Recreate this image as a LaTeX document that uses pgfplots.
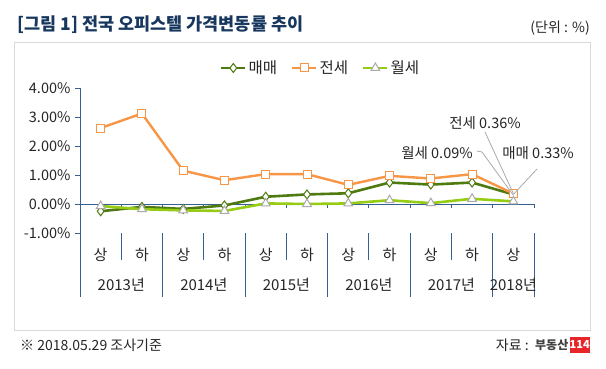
\documentclass[border=0pt]{standalone}
\usepackage{fontspec}
\setmainfont{Noto Sans CJK KR}
\usepackage{pgfplots}
\usepackage{pgfplotstable}
\pgfplotsset{compat=1.18}
\definecolor{maemae}{RGB}{79,122,16}
\definecolor{jeonse}{RGB}{247,150,70}
\definecolor{wolse}{RGB}{150,204,20}
\definecolor{axiscol}{RGB}{54,96,146}
\definecolor{titlecol}{RGB}{23,55,94}
\definecolor{framecol}{RGB}{217,217,217}
\definecolor{leader}{RGB}{170,170,170}
\definecolor{txt}{RGB}{38,38,38}
\definecolor{logored}{RGB}{232,38,42}

\pgfplotstableread{
x maemae jeonse wolse
1  -0.25 2.62 -0.07
2  -0.10 3.12 -0.18
3  -0.17 1.15 -0.22
4  -0.05 0.82 -0.24
5   0.25 1.03  0.02
6   0.33 1.03  0.00
7   0.37 0.66  0.02
8   0.74 0.97  0.13
9   0.67 0.88  0.03
10  0.74 1.03  0.18
11  0.33 0.36  0.09
}\datatable

\begin{document}
\begin{tikzpicture}
\useasboundingbox (0pt,0pt) rectangle (606pt,-369pt);
\fill[white] (0pt,0pt) rectangle (606pt,-369pt);
\node[anchor=west, text=titlecol, font=\fontsize{17.5}{20}\selectfont\bfseries, inner sep=0] at (17pt,-25pt) {[그림 1] 전국 오피스텔 가격변동률 추이};
\node[anchor=east, text=txt, font=\fontsize{14}{17}\selectfont, inner sep=0] at (590pt,-28pt) {(단위 : \%)};
\draw[framecol, line width=1pt] (14pt,-43pt) rectangle (590pt,-330pt);

\begin{axis}[
  at={(80pt,-233pt)}, anchor=south west,
  scale only axis, width=454pt, height=145pt,
  xmin=0.5, xmax=11.5, ymin=-1, ymax=4,
  clip=false,
  axis lines*=left,
  x axis line style={draw=none},
  y axis line style={draw=axiscol, line width=1pt},
  ytick={-1,0,1,2,3,4},
  ytick style={draw=axiscol, line width=1pt},
  tick align=outside,
  major tick length=5pt,
  yticklabel={\pgfmathprintnumber[fixed,fixed zerofill,precision=2]{\tick}\%},
  /pgf/number format/assume math mode=true,
  yticklabel style={font=\fontsize{14.5}{17}\selectfont, text=txt, xshift=-1pt},
  xtick={1,...,11},
  xticklabels={상,하,상,하,상,하,상,하,상,하,상},
  xtick style={draw=none},
  xticklabel style={font=\fontsize{15}{18}\selectfont, text=txt, anchor=center, yshift=-17pt},
  legend columns=3,
  legend style={draw=none, fill=none, font=\fontsize{15.5}{18}\selectfont, text=txt,
    at={(axis description cs:0.53,1.138)}, anchor=center,
    /tikz/every even column/.append style={column sep=12pt}},
  legend image code/.code={\draw[mark repeat=2,mark phase=2] plot coordinates {(0pt,0pt) (12pt,0pt) (24pt,0pt)};},
]
\draw[axiscol, line width=1pt] (axis cs:0.5,0) -- (axis cs:11.5,0);
\pgfplotsinvokeforeach{1.5,2.5,...,11.5}{
  \draw[axiscol, line width=1pt] (axis cs:#1,0) -- ([yshift=-4pt]axis cs:#1,0);
}
\pgfplotsinvokeforeach{1.5,3.5,5.5,7.5,9.5}{
  \draw[axiscol, line width=1pt] (axis cs:#1,-1) -- ([yshift=-27pt]axis cs:#1,-1);
}
\pgfplotsinvokeforeach{0.5,2.5,4.5,6.5,8.5,10.5,11.5}{
  \draw[axiscol, line width=1pt] (axis cs:#1,-1) -- ([yshift=-64pt]axis cs:#1,-1);
}
\node[text=txt, font=\fontsize{15}{18}\selectfont, inner sep=0] at ([yshift=-52pt]axis cs:1.5,-1) {2013년};
\node[text=txt, font=\fontsize{15}{18}\selectfont, inner sep=0] at ([yshift=-52pt]axis cs:3.5,-1) {2014년};
\node[text=txt, font=\fontsize{15}{18}\selectfont, inner sep=0] at ([yshift=-52pt]axis cs:5.5,-1) {2015년};
\node[text=txt, font=\fontsize{15}{18}\selectfont, inner sep=0] at ([yshift=-52pt]axis cs:7.5,-1) {2016년};
\node[text=txt, font=\fontsize{15}{18}\selectfont, inner sep=0] at ([yshift=-52pt]axis cs:9.5,-1) {2017년};
\node[text=txt, font=\fontsize{15}{18}\selectfont, inner sep=0] at ([yshift=-52pt]axis cs:11,-1) {2018년};
\addplot[maemae, line width=2.6pt, mark=diamond*, mark size=4.5pt, mark options={fill=white, draw=maemae, line width=1pt}] table[x=x,y=maemae] {\datatable};
\addlegendentry{매매}
\addplot[jeonse, line width=2.4pt, mark=square*, mark size=4pt, mark options={fill=white, draw=jeonse, line width=1pt}] table[x=x,y=jeonse] {\datatable};
\addlegendentry{전세}
\addplot[wolse, line width=2.6pt, mark=triangle*, mark size=5pt, mark options={fill=white, draw=leader, line width=1pt}] table[x=x,y=wolse] {\datatable};
\addlegendentry{월세}
\coordinate (pj) at (axis cs:11,0.36);
\coordinate (pm) at (axis cs:11,0.33);
\coordinate (pw) at (axis cs:11,0.30);
\end{axis}

\draw[leader, line width=0.8pt] (485pt,-132pt) -- (pj);
\draw[leader, line width=0.8pt] (477pt,-151pt) -- (482pt,-152pt) -- (pw);
\draw[leader, line width=0.8pt] (537pt,-169pt) -- (pm);
\node[text=txt, font=\fontsize{14.5}{17}\selectfont, inner sep=0] at (485pt,-123pt) {전세 0.36\%};
\node[text=txt, font=\fontsize{14.5}{17}\selectfont, inner sep=0] at (437pt,-153pt) {월세 0.09\%};
\node[text=txt, font=\fontsize{14.5}{17}\selectfont, inner sep=0] at (538pt,-153pt) {매매 0.33\%};

\node[anchor=west, text=txt, font=\fontsize{14}{17}\selectfont, inner sep=0] at (20pt,-345pt) {※ 2018.05.29 조사기준};
\node[anchor=east, inner sep=0, fill=logored, text=white, font=\fontsize{11}{13}\selectfont\bfseries, minimum height=16pt, minimum width=15pt] (logo) at (590pt,-345pt) {114};
\node[anchor=east, inner sep=0, text=black!75, font=\fontsize{12}{14}\selectfont\bfseries] (bd) at ([xshift=-1pt]logo.west) {부동산};
\node[anchor=east, inner sep=0, text=txt, font=\fontsize{14}{17}\selectfont] at ([xshift=-6pt]bd.west) {자료 :};
\end{tikzpicture}
\end{document}
